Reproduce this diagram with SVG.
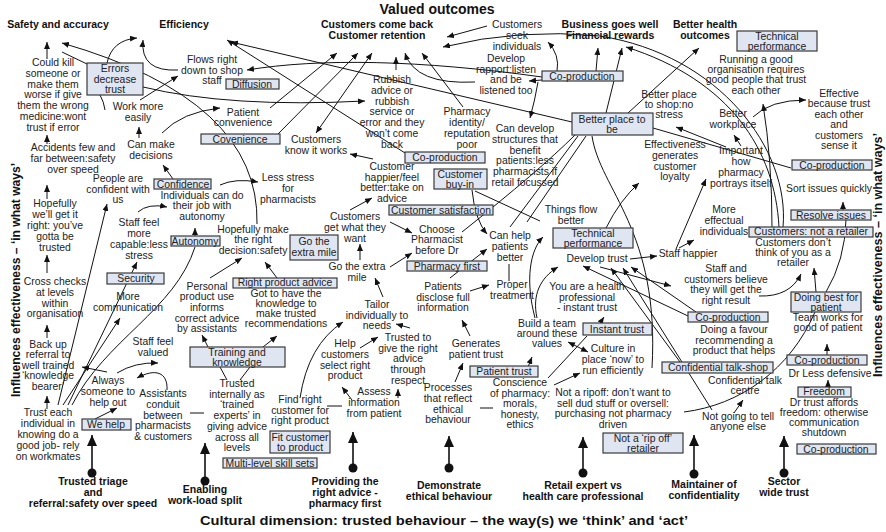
<svg xmlns="http://www.w3.org/2000/svg" width="886" height="532" viewBox="0 0 886 532">
<defs>
<style>
.t{font-family:"Liberation Sans",Arial,sans-serif;font-size:10.4px;fill:#222;text-anchor:middle}
.b{font-family:"Liberation Sans",Arial,sans-serif;font-size:10.5px;font-weight:bold;fill:#111;text-anchor:middle}
.bx{fill:#dfe5f1;stroke:#3a3a3a;stroke-width:1.2}
.c{fill:none;stroke:#111;stroke-width:1}
.a{fill:none;stroke:#111;stroke-width:1;marker-end:url(#ah)}
.aa{fill:none;stroke:#111;stroke-width:1;marker-end:url(#ah);marker-start:url(#as)}
.big{fill:none;stroke:#111;stroke-width:1.6;marker-end:url(#bh)}
</style>
<marker id="ah" markerUnits="userSpaceOnUse" markerWidth="7" markerHeight="6" refX="7" refY="3" orient="auto"><path d="M0,0 L7,3 L0,6 z" fill="#111"/></marker>
<marker id="as" markerUnits="userSpaceOnUse" markerWidth="7" markerHeight="6" refX="0" refY="3" orient="auto"><path d="M7,0 L0,3 L7,6 z" fill="#111"/></marker>
<marker id="bh" markerUnits="userSpaceOnUse" markerWidth="11" markerHeight="10" refX="11" refY="5" orient="auto"><path d="M0,0 L11,5 L0,10 z" fill="#111"/></marker>
</defs>
<rect width="886" height="532" fill="#fff"/>

<g id="connectors">
<path class="a" d="M47,59 L47,42"/>
<path class="a" d="M47,144 L47,135"/>
<path class="a" d="M47,199 L47,185"/>
<path class="a" d="M47,273 L47,255"/>
<path class="a" d="M47,338 L47,325"/>
<path class="a" d="M47,409 L47,396"/>
<path class="c" d="M62,52 L87,64"/>
<path class="a" d="M257,224 Q260,100 62,43"/>
<path class="a" d="M107,63 Q112,40 137,38"/>
<path class="a" d="M178,70 Q140,72 143,40"/>
<path class="c" d="M100,95 Q104,102 105,110"/>
<path class="a" d="M140,100 L178,76"/>
<path class="a" d="M143,87 Q230,108 365,101"/>
<path class="a" d="M139,138 L139,127"/>
<path class="a" d="M162,133 Q182,112 220,108"/>
<path class="a" d="M173,179 L163,165"/>
<path class="a" d="M270,108 L337,53"/>
<path class="a" d="M278,134 L358,53"/>
<path class="aa" d="M316,133 L372,53"/>
<path class="a" d="M396,70 L396,57"/>
<path class="a" d="M475,82 Q415,85 405,53"/>
<path class="a" d="M463,107 L422,53"/>
<path class="a" d="M487,26 L447,37"/>
<path class="a" d="M783,227 C790,150 720,55 600,36 Q520,28 443,47"/>
<path class="a" d="M779,227 C775,150 730,80 626,47"/>
<path class="a" d="M772,227 Q772,160 763,104"/>
<path class="a" d="M572,122 L231,42"/>
<path class="a" d="M405,153 L227,40"/>
<path class="a" d="M542,77 C420,60 320,58 247,70"/>
<path class="a" d="M542,80 L529,81"/>
<path class="a" d="M538,82 Q535,100 530,118"/>
<path class="a" d="M557,71 Q560,55 548,42"/>
<path class="a" d="M596,71 L598,48"/>
<path class="a" d="M606,113 L622,48"/>
<path class="a" d="M628,113 L699,48"/>
<path class="c" d="M653,128 L791,168"/>
<path class="a" d="M741,146 L734,135"/>
<path class="a" d="M726,147 L676,127"/>
<path class="a" d="M753,117 Q770,100 806,100"/>
<path class="a" d="M676,249 L706,179"/>
<path class="a" d="M679,248 L694,240"/>
<path class="a" d="M630,259 L657,256"/>
<path class="a" d="M606,228 Q620,200 639,183"/>
<path class="a" d="M843,210 L843,202"/>
<path class="c" d="M826,292 Q845,260 846,220"/>
<path class="a" d="M816,292 L814,268"/>
<path class="a" d="M759,296 Q790,297 801,274"/>
<path class="a" d="M827,355 L827,344"/>
<path class="a" d="M828,387 L828,380"/>
<path class="c" d="M684,412 C740,405 790,370 815,312"/>
<path class="a" d="M734,413 L743,400"/>
<path class="a" d="M688,316 L583,266"/>
<path class="a" d="M696,312 L631,267"/>
<path class="a" d="M680,362 L611,268"/>
<path class="a" d="M712,410 L623,268"/>
<path class="a" d="M600,267 L671,286"/>
<path class="a" d="M537,318 C532,295 540,278 558,267"/>
<path class="a" d="M535,318 C525,280 530,250 543,237"/>
<path class="a" d="M600,323 L604,317"/>
<path class="aa" d="M568,342 L588,352"/>
<path class="c" d="M548,378 L587,336"/>
<path class="a" d="M554,385 L580,373"/>
<path class="a" d="M528,367 L532,357"/>
<path class="a" d="M455,382 L463,363"/>
<path class="a" d="M470,336 L462,320"/>
<path class="c" d="M480,408 L493,408"/>
<path class="a" d="M450,278 L487,249"/>
<path class="a" d="M470,291 L489,285"/>
<path class="c" d="M509,264 L509,281"/>
<path class="a" d="M472,190 Q475,220 487,234"/>
<path class="c" d="M475,191 L540,221"/>
<path class="c" d="M462,232 Q540,170 575,135"/>
<path class="c" d="M510,227 L578,136"/>
<path class="c" d="M527,222 L586,136"/>
<path class="c" d="M592,136 C600,190 660,230 652,368"/>
<path class="a" d="M58,405 L107,204"/>
<path class="a" d="M63,405 L120,318"/>
<path class="a" d="M68,405 L137,262"/>
<path class="c" d="M72,405 C105,340 175,310 195,247"/>
<path class="a" d="M95,419 L117,408"/>
<path class="a" d="M107,372 L82,367"/>
<path class="a" d="M167,390 C168,372 155,368 137,378"/>
<path class="a" d="M117,373 Q135,362 158,363"/>
<path class="c" d="M190,413 L204,413"/>
<path class="c" d="M227,380 L220,367"/>
<path class="c" d="M240,380 L250,367"/>
<path class="a" d="M208,347 L202,335"/>
<path class="a" d="M263,347 L277,336"/>
<path class="a" d="M210,278 L242,258"/>
<path class="a" d="M277,278 L265,262"/>
<path class="a" d="M195,236 L195,228"/>
<path class="a" d="M138,212 Q148,203 167,207"/>
<path class="a" d="M220,185 Q235,178 258,182"/>
<path class="a" d="M300,398 Q308,345 343,322"/>
<path class="c" d="M327,406 L342,406"/>
<path class="a" d="M352,400 L342,387"/>
<path class="a" d="M398,398 L398,389"/>
<path class="a" d="M360,348 L378,337"/>
<path class="a" d="M410,328 L396,324"/>
<path class="a" d="M383,297 L375,278"/>
<path class="a" d="M360,260 L360,244"/>
<path class="a" d="M390,267 L412,253"/>
<path class="a" d="M350,210 L372,198"/>
<path class="a" d="M390,222 L412,233"/>
<path class="a" d="M373,159 L350,154"/>
<path class="big" d="M92,473 L92,435"/>
<path class="big" d="M205,481 L205,443"/>
<path class="big" d="M353,468 L353,432"/>
<path class="big" d="M449,468 L449,436"/>
<path class="big" d="M583,473 L583,437"/>
<path class="big" d="M694,474 L694,435"/>
<path class="big" d="M784,473 L784,436"/>
<circle cx="92" cy="473" r="4.5" fill="#111"/>
<circle cx="205" cy="481" r="4.5" fill="#111"/>
<circle cx="353" cy="468" r="4.5" fill="#111"/>
<circle cx="449" cy="468" r="4.5" fill="#111"/>
<circle cx="583" cy="473" r="4.5" fill="#111"/>
<circle cx="694" cy="474" r="4.5" fill="#111"/>
<circle cx="784" cy="473" r="4.5" fill="#111"/>
</g>

<g id="titles">
<text class="b" x="437" y="14" style="font-size:14px">Valued outcomes</text>
<text class="b" x="444" y="525" style="font-size:13px" textLength="488" lengthAdjust="spacingAndGlyphs">Cultural dimension: trusted behaviour – the way(s) we ‘think’ and ‘act’</text>
<text class="b" transform="translate(20,280) rotate(-90)" x="0" y="0" style="font-size:12px" textLength="234" lengthAdjust="spacingAndGlyphs">Influences effectiveness – ‘in what ways’</text>
<text class="b" transform="translate(882,255) rotate(-90)" x="0" y="0" style="font-size:12.5px" textLength="244" lengthAdjust="spacingAndGlyphs">Influences effectiveness – ‘in what ways’</text>
</g>

<g id="o-safety"><text class="b" x="58" y="28">Safety and accuracy</text></g>
<g id="o-efficiency"><text class="b" x="184" y="28">Efficiency</text></g>
<g id="o-retention"><text class="b" x="377" y="28"><tspan x="377">Customers come back</tspan><tspan x="377" dy="11">Customer retention</tspan></text></g>
<g id="o-business"><text class="b" x="610" y="28"><tspan x="610">Business goes well</tspan><tspan x="610" dy="11">Financial rewards</tspan></text></g>
<g id="o-health"><text class="b" x="705" y="28"><tspan x="705">Better health</tspan><tspan x="705" dy="11">outcomes</tspan></text></g>

<g id="d-triage"><text class="b" x="93" y="485"><tspan x="93">Trusted triage</tspan><tspan x="93" dy="11">and</tspan><tspan x="93" dy="11">referral:safety over speed</tspan></text></g>
<g id="d-workload"><text class="b" x="205" y="493"><tspan x="205">Enabling</tspan><tspan x="205" dy="11">work-load split</tspan></text></g>
<g id="d-advice"><text class="b" x="345" y="485"><tspan x="345">Providing the</tspan><tspan x="345" dy="11">right advice -</tspan><tspan x="345" dy="11">pharmacy first</tspan></text></g>
<g id="d-ethical"><text class="b" x="449" y="489"><tspan x="449">Demonstrate</tspan><tspan x="449" dy="11">ethical behaviour</tspan></text></g>
<g id="d-retail"><text class="b" x="583" y="489"><tspan x="583">Retail expert vs</tspan><tspan x="583" dy="11">health care professional</tspan></text></g>
<g id="d-confid"><text class="b" x="704" y="488"><tspan x="704">Maintainer of</tspan><tspan x="704" dy="11">confidentiality</tspan></text></g>
<g id="d-sector"><text class="b" x="784" y="485"><tspan x="784">Sector</tspan><tspan x="784" dy="11">wide trust</tspan></text></g>

<g id="n1"><text class="t" x="53" y="66"><tspan x="53">Could kill</tspan><tspan x="53" dy="10.8">someone or</tspan><tspan x="53" dy="10.8">make them</tspan><tspan x="53" dy="10.8">worse if give</tspan><tspan x="53" dy="10.8">them the wrong</tspan><tspan x="53" dy="10.8">medicine:wont</tspan><tspan x="53" dy="10.8">trust if error</tspan></text></g>
<g id="n2"><text class="t" x="73" y="151"><tspan x="73">Accidents few and</tspan><tspan x="73" dy="10.8">far between:safety</tspan><tspan x="73" dy="10.8">over speed</tspan></text></g>
<g id="n3"><text class="t" x="55" y="207"><tspan x="55">Hopefully</tspan><tspan x="55" dy="11">we’ll get it</tspan><tspan x="55" dy="11">right: you’ve</tspan><tspan x="55" dy="11">gotta be</tspan><tspan x="55" dy="11">trusted</tspan></text></g>
<g id="n4"><text class="t" x="55" y="285"><tspan x="55">Cross checks</tspan><tspan x="55" dy="10.8">at levels</tspan><tspan x="55" dy="10.8">within</tspan><tspan x="55" dy="10.8">organisation</tspan></text></g>
<g id="n5"><text class="t" x="48" y="348"><tspan x="48">Back up</tspan><tspan x="48" dy="10.4">referral to</tspan><tspan x="48" dy="10.4">well trained</tspan><tspan x="48" dy="10.4">‘knowledge</tspan><tspan x="48" dy="10.4">bearer’</tspan></text></g>
<g id="n6"><text class="t" x="48" y="416"><tspan x="48">Trust each</tspan><tspan x="48" dy="10.9">individual in</tspan><tspan x="48" dy="10.9">knowing do a</tspan><tspan x="48" dy="10.9">good job- rely</tspan><tspan x="48" dy="10.9">on workmates</tspan></text></g>
<g id="n7"><text class="t" x="108" y="384"><tspan x="108">Always</tspan><tspan x="108" dy="10.8">someone to</tspan><tspan x="108" dy="10.8">help out</tspan></text></g>
<g id="n8"><text class="t" x="153" y="345"><tspan x="153">Staff feel</tspan><tspan x="153" dy="11">valued</tspan></text></g>
<g id="n9"><text class="t" x="163" y="397"><tspan x="163">Assistants</tspan><tspan x="163" dy="10.8">conduit</tspan><tspan x="163" dy="10.8">between</tspan><tspan x="163" dy="10.8">pharmacists</tspan><tspan x="163" dy="10.8">&amp; customers</tspan></text></g>
<g id="n10"><text class="t" x="237" y="387"><tspan x="237">Trusted</tspan><tspan x="237" dy="10.7">internally as</tspan><tspan x="237" dy="10.7">‘trained</tspan><tspan x="237" dy="10.7">experts’ in</tspan><tspan x="237" dy="10.7">giving advice</tspan><tspan x="237" dy="10.7">across all</tspan><tspan x="237" dy="10.7">levels</tspan></text></g>
<g id="n11"><text class="t" x="300" y="403"><tspan x="300">Find right</tspan><tspan x="300" dy="10.7">customer for</tspan><tspan x="300" dy="10.7">right product</tspan></text></g>
<g id="n12"><text class="t" x="345" y="347"><tspan x="345">Help</tspan><tspan x="345" dy="10.8">customers</tspan><tspan x="345" dy="10.8">select right</tspan><tspan x="345" dy="10.8">product</tspan></text></g>
<g id="n13"><text class="t" x="374" y="395"><tspan x="374">Assess</tspan><tspan x="374" dy="10.8">information</tspan><tspan x="374" dy="10.8">from patient</tspan></text></g>
<g id="n14"><text class="t" x="408" y="341"><tspan x="408">Trusted to</tspan><tspan x="408" dy="10.7">give the right</tspan><tspan x="408" dy="10.7">advice</tspan><tspan x="408" dy="10.7">through</tspan><tspan x="408" dy="10.7">respect</tspan></text></g>
<g id="n15"><text class="t" x="377" y="308"><tspan x="377">Tailor</tspan><tspan x="377" dy="10.5">individually to</tspan><tspan x="377" dy="10.5">needs</tspan></text></g>
<g id="n16"><text class="t" x="357" y="270"><tspan x="357">Go the extra</tspan><tspan x="357" dy="11">mile</tspan></text></g>
<g id="n17"><text class="t" x="355" y="220"><tspan x="355">Customers</tspan><tspan x="355" dy="11">get what they</tspan><tspan x="355" dy="11">want</tspan></text></g>
<g id="n18"><text class="t" x="392" y="170"><tspan x="392">Customer</tspan><tspan x="392" dy="10.7">happier/feel</tspan><tspan x="392" dy="10.7">better:take on</tspan><tspan x="392" dy="10.7">advice</tspan></text></g>
<g id="n19"><text class="t" x="437" y="233"><tspan x="437">Choose</tspan><tspan x="437" dy="10.3">Pharmacist</tspan><tspan x="437" dy="10.3">before Dr</tspan></text></g>
<g id="n20"><text class="t" x="443" y="290"><tspan x="443">Patients</tspan><tspan x="443" dy="10.6">disclose full</tspan><tspan x="443" dy="10.6">information</tspan></text></g>
<g id="n21"><text class="t" x="512" y="288"><tspan x="512">Proper</tspan><tspan x="512" dy="11">treatment</tspan></text></g>
<g id="n22"><text class="t" x="510" y="239"><tspan x="510">Can help</tspan><tspan x="510" dy="10.8">patients</tspan><tspan x="510" dy="10.8">better</tspan></text></g>
<g id="n23"><text class="t" x="476" y="347"><tspan x="476">Generates</tspan><tspan x="476" dy="10.5">patient trust</tspan></text></g>
<g id="n24"><text class="t" x="448" y="391"><tspan x="448">Processes</tspan><tspan x="448" dy="10.8">that reflect</tspan><tspan x="448" dy="10.8">ethical</tspan><tspan x="448" dy="10.8">behaviour</tspan></text></g>
<g id="n25"><text class="t" x="520" y="386"><tspan x="520">Conscience</tspan><tspan x="520" dy="10.5">of pharmacy:</tspan><tspan x="520" dy="10.5">morals,</tspan><tspan x="520" dy="10.5">honesty,</tspan><tspan x="520" dy="10.5">ethics</tspan></text></g>
<g id="n26"><text class="t" x="613" y="396"><tspan x="613">Not a ripoff: don’t want to</tspan><tspan x="613" dy="10.5">sell dud stuff or oversell:</tspan><tspan x="613" dy="10.5">purchasing not pharmacy</tspan><tspan x="613" dy="10.5">driven</tspan></text></g>
<g id="n27"><text class="t" x="613" y="352"><tspan x="613">Culture in</tspan><tspan x="613" dy="11">place ‘now’ to</tspan><tspan x="613" dy="11">run efficiently</tspan></text></g>
<g id="n28"><text class="t" x="547" y="327"><tspan x="547">Build a team</tspan><tspan x="547" dy="10.2">around these</tspan><tspan x="547" dy="10.2">values</tspan></text></g>
<g id="n29"><text class="t" x="587" y="290"><tspan x="587">You are a health</tspan><tspan x="587" dy="10.5">professional</tspan><tspan x="587" dy="10.5">- instant trust</tspan></text></g>
<g id="n30"><text class="t" x="597" y="262">Develop trust</text></g>
<g id="n31"><text class="t" x="571" y="213"><tspan x="571">Things flow</tspan><tspan x="571" dy="10.6">better</tspan></text></g>
<g id="n32"><text class="t" x="688" y="257">Staff happier</text></g>
<g id="n33"><text class="t" x="724" y="213"><tspan x="724">More</tspan><tspan x="724" dy="10.8">effectual</tspan><tspan x="724" dy="10.8">individuals</tspan></text></g>
<g id="n34"><text class="t" x="726" y="272"><tspan x="726">Staff and</tspan><tspan x="726" dy="10.5">customers believe</tspan><tspan x="726" dy="10.5">they will get the</tspan><tspan x="726" dy="10.5">right result</tspan></text></g>
<g id="n35"><text class="t" x="793" y="245.5"><tspan x="793">Customers don’t</tspan><tspan x="793" dy="10.3">think of you as a</tspan><tspan x="793" dy="10.3">retailer</tspan></text></g>
<g id="n36"><text class="t" x="829" y="192">Sort issues quickly</text></g>
<g id="n37"><text class="t" x="828" y="321"><tspan x="828">Team works for</tspan><tspan x="828" dy="10.2">good of patient</tspan></text></g>
<g id="n38"><text class="t" x="734" y="333"><tspan x="734">Doing a favour</tspan><tspan x="734" dy="10.6">recommending a</tspan><tspan x="734" dy="10.6">product that helps</tspan></text></g>
<g id="n39"><text class="t" x="745" y="384"><tspan x="745">Confidential talk</tspan><tspan x="745" dy="10.3">centre</tspan></text></g>
<g id="n40"><text class="t" x="738" y="420"><tspan x="738">Not going to tell</tspan><tspan x="738" dy="10.3">anyone else</tspan></text></g>
<g id="n41"><text class="t" x="830" y="377">Dr Less defensive</text></g>
<g id="n42"><text class="t" x="824" y="405.5"><tspan x="824">Dr trust affords</tspan><tspan x="824" dy="10.2">freedom: otherwise</tspan><tspan x="824" dy="10.2">communication</tspan><tspan x="824" dy="10.2">shutdown</tspan></text></g>
<g id="n43"><text class="t" x="675" y="148"><tspan x="675">Effectiveness</tspan><tspan x="675" dy="10.8">generates</tspan><tspan x="675" dy="10.8">customer</tspan><tspan x="675" dy="10.8">loyalty</tspan></text></g>
<g id="n44"><text class="t" x="741" y="154"><tspan x="741">Important</tspan><tspan x="741" dy="11">how</tspan><tspan x="741" dy="11">pharmacy</tspan><tspan x="741" dy="11">portrays itself</tspan></text></g>
<g id="n45"><text class="t" x="669" y="98"><tspan x="669">Better place</tspan><tspan x="669" dy="10">to shop:no</tspan><tspan x="669" dy="10">stress</tspan></text></g>
<g id="n46"><text class="t" x="733" y="117"><tspan x="733">Better</tspan><tspan x="733" dy="11">workplace</tspan></text></g>
<g id="n47"><text class="t" x="839" y="97"><tspan x="839">Effective</tspan><tspan x="839" dy="10.4">because trust</tspan><tspan x="839" dy="10.4">each other</tspan><tspan x="839" dy="10.4">and</tspan><tspan x="839" dy="10.4">customers</tspan><tspan x="839" dy="10.4">sense it</tspan></text></g>
<g id="n48"><text class="t" x="756" y="63"><tspan x="756">Running a good</tspan><tspan x="756" dy="10.2">organisation requires</tspan><tspan x="756" dy="10.2">good people that trust</tspan><tspan x="756" dy="10.2">each other</tspan></text></g>
<g id="n49"><text class="t" x="517" y="28"><tspan x="517">Customers</tspan><tspan x="517" dy="11">seek</tspan><tspan x="517" dy="11">individuals</tspan></text></g>
<g id="n50"><text class="t" x="506" y="62"><tspan x="506">Develop</tspan><tspan x="506" dy="10.7">rapport:listen</tspan><tspan x="506" dy="10.7">and be</tspan><tspan x="506" dy="10.7">listened too</tspan></text></g>
<g id="n51"><text class="t" x="392" y="83"><tspan x="392">Rubbish</tspan><tspan x="392" dy="10.8">advice or</tspan><tspan x="392" dy="10.8">rubbish</tspan><tspan x="392" dy="10.8">service or</tspan><tspan x="392" dy="10.8">error and they</tspan><tspan x="392" dy="10.8">won’t come</tspan><tspan x="392" dy="10.8">back</tspan></text></g>
<g id="n52"><text class="t" x="467" y="115"><tspan x="467">Pharmacy</tspan><tspan x="467" dy="11">identity/</tspan><tspan x="467" dy="11">reputation</tspan><tspan x="467" dy="11">poor</tspan></text></g>
<g id="n53"><text class="t" x="525" y="132"><tspan x="525">Can develop</tspan><tspan x="525" dy="10.8">structures that</tspan><tspan x="525" dy="10.8">benefit</tspan><tspan x="525" dy="10.8">patients:less</tspan><tspan x="525" dy="10.8">pharmacists if</tspan><tspan x="525" dy="10.8">retail focussed</tspan></text></g>
<g id="n54"><text class="t" x="316" y="143"><tspan x="316">Customers</tspan><tspan x="316" dy="11">know it works</tspan></text></g>
<g id="n55"><text class="t" x="243" y="116"><tspan x="243">Patient</tspan><tspan x="243" dy="10">convenience</tspan></text></g>
<g id="n56"><text class="t" x="138" y="110"><tspan x="138">Work more</tspan><tspan x="138" dy="11">easily</tspan></text></g>
<g id="n57"><text class="t" x="151" y="148"><tspan x="151">Can make</tspan><tspan x="151" dy="11">decisions</tspan></text></g>
<g id="n58"><text class="t" x="212" y="63"><tspan x="212">Flows right</tspan><tspan x="212" dy="10.5">down to shop</tspan><tspan x="212" dy="10.5">staff</tspan></text></g>
<g id="n59"><text class="t" x="118" y="182"><tspan x="118">People are</tspan><tspan x="118" dy="10.7">confident with</tspan><tspan x="118" dy="10.7">us</tspan></text></g>
<g id="n60"><text class="t" x="202" y="198.5"><tspan x="202">Individuals can do</tspan><tspan x="202" dy="10.8">their job with</tspan><tspan x="202" dy="10.8">autonomy</tspan></text></g>
<g id="n61"><text class="t" x="288" y="181"><tspan x="288">Less stress</tspan><tspan x="288" dy="11">for</tspan><tspan x="288" dy="11">pharmacists</tspan></text></g>
<g id="n62"><text class="t" x="139" y="226"><tspan x="139">Staff feel</tspan><tspan x="139" dy="11">more</tspan><tspan x="139" dy="11">capable:less</tspan><tspan x="139" dy="11">stress</tspan></text></g>
<g id="n63"><text class="t" x="128" y="300"><tspan x="128">More</tspan><tspan x="128" dy="10.5">communication</tspan></text></g>
<g id="n64"><text class="t" x="253" y="233"><tspan x="253">Hopefully make</tspan><tspan x="253" dy="10.4">the right</tspan><tspan x="253" dy="10.4">decision:safety</tspan></text></g>
<g id="n65"><text class="t" x="207" y="289.5"><tspan x="207">Personal</tspan><tspan x="207" dy="10.7">product use</tspan><tspan x="207" dy="10.7">informs</tspan><tspan x="207" dy="10.7">correct advice</tspan><tspan x="207" dy="10.7">by assistants</tspan></text></g>
<g id="n66"><text class="t" x="286" y="296.5"><tspan x="286">Got to have the</tspan><tspan x="286" dy="10.2">knowledge to</tspan><tspan x="286" dy="10.2">make trusted</tspan><tspan x="286" dy="10.2">recommendations</tspan></text></g>

<g id="b-errors"><rect class="bx" x="87" y="63" width="56" height="32"/><text class="t" x="115" y="72"><tspan x="115">Errors</tspan><tspan x="115" dy="10.5">decrease</tspan><tspan x="115" dy="10.5">trust</tspan></text></g>
<g id="b-diffusion"><rect class="bx" x="226" y="79" width="53" height="10"/><text class="t" x="252" y="87.5">Diffusion</text></g>
<g id="b-covenience"><rect class="bx" x="201" y="134" width="79" height="10"/><text class="t" x="240" y="142.5">Covenience</text></g>
<g id="b-confidence"><rect class="bx" x="154" y="179" width="57" height="10"/><text class="t" x="183" y="187.5">Confidence</text></g>
<g id="b-autonomy"><rect class="bx" x="171" y="236" width="49" height="10"/><text class="t" x="195" y="244.5">Autonomy</text></g>
<g id="b-security"><rect class="bx" x="107" y="273" width="57" height="11"/><text class="t" x="136" y="282">Security</text></g>
<g id="b-rightproduct"><rect class="bx" x="233" y="278" width="104" height="10"/><text class="t" x="285" y="286.3">Right product advice</text></g>
<g id="b-extramile"><rect class="bx" x="290" y="235" width="48" height="25"/><text class="t" x="314" y="245"><tspan x="314">Go the</tspan><tspan x="314" dy="10.5">extra mile</tspan></text></g>
<g id="b-training"><rect class="bx" x="190" y="347" width="95" height="20"/><text class="t" x="237" y="355.5"><tspan x="237">Training and</tspan><tspan x="237" dy="10">knowledge</tspan></text></g>
<g id="b-wehelp"><rect class="bx" x="82" y="419" width="49" height="11"/><text class="t" x="106" y="428">We help</text></g>
<g id="b-fit"><rect class="bx" x="270" y="431" width="60" height="22"/><text class="t" x="300" y="440.5"><tspan x="300">Fit customer</tspan><tspan x="300" dy="10.5">to product</tspan></text></g>
<g id="b-multilevel"><rect class="bx" x="223" y="458" width="94" height="10"/><text class="t" x="270" y="466.5">Multi-level skill sets</text></g>
<g id="b-patienttrust"><rect class="bx" x="470" y="366" width="68" height="11"/><text class="t" x="504" y="375">Patient trust</text></g>
<g id="b-pharmacyfirst"><rect class="bx" x="407" y="261" width="80" height="10"/><text class="t" x="447" y="269.5">Pharmacy first</text></g>
<g id="b-custsat"><rect class="bx" x="389" y="205" width="104" height="10"/><text class="t" x="441" y="213.5">Customer satisfaction</text></g>
<g id="b-buyin"><rect class="bx" x="434" y="169" width="53" height="20"/><text class="t" x="460" y="177.5"><tspan x="460">Customer</tspan><tspan x="460" dy="10">buy-in</tspan></text></g>
<g id="b-coprod1"><rect class="bx" x="405" y="152" width="80" height="11"/><text class="t" x="445" y="161">Co-production</text></g>
<g id="b-coprod2"><rect class="bx" x="542" y="71" width="81" height="10"/><text class="t" x="582" y="79.5">Co-production</text></g>
<g id="b-betterplace"><rect class="bx" x="572" y="113" width="81" height="22"/><text class="t" x="612" y="123"><tspan x="612">Better place to</tspan><tspan x="612" dy="10">be</tspan></text></g>
<g id="b-tech1"><rect class="bx" x="737" y="31" width="80" height="20"/><text class="t" x="777" y="39.5"><tspan x="777">Technical</tspan><tspan x="777" dy="10">performance</tspan></text></g>
<g id="b-coprod3"><rect class="bx" x="792" y="160" width="80" height="10"/><text class="t" x="832" y="168.5">Co-production</text></g>
<g id="b-resolve"><rect class="bx" x="791" y="210" width="80" height="10"/><text class="t" x="831" y="218.5">Resolve issues</text></g>
<g id="b-notretailer"><rect class="bx" x="749" y="227" width="124" height="10"/><text class="t" x="811" y="235.3">Customers: not a retailer</text></g>
<g id="b-tech2"><rect class="bx" x="553" y="228" width="80" height="20"/><text class="t" x="593" y="236.5"><tspan x="593">Technical</tspan><tspan x="593" dy="10">performance</tspan></text></g>
<g id="b-instant"><rect class="bx" x="583" y="323" width="69" height="12"/><text class="t" x="617" y="332.5">Instant trust</text></g>
<g id="b-bestpatient"><rect class="bx" x="791" y="292" width="70" height="20"/><text class="t" x="826" y="300.5"><tspan x="826">Doing best for</tspan><tspan x="826" dy="10">patient</tspan></text></g>
<g id="b-coprod4"><rect class="bx" x="688" y="312" width="80" height="10"/><text class="t" x="728" y="320.5">Co-production</text></g>
<g id="b-talkshop"><rect class="bx" x="662" y="362" width="111" height="11"/><text class="t" x="718" y="371">Confidential talk-shop</text></g>
<g id="b-coprod5"><rect class="bx" x="787" y="355" width="80" height="10"/><text class="t" x="827" y="363.5">Co-production</text></g>
<g id="b-freedom"><rect class="bx" x="798" y="387" width="53" height="10"/><text class="t" x="824" y="395.3">Freedom</text></g>
<g id="b-coprod6"><rect class="bx" x="797" y="444" width="79" height="10"/><text class="t" x="836" y="452.5">Co-production</text></g>
<g id="b-ripoff"><rect class="bx" x="603" y="433" width="80" height="20"/><text class="t" x="643" y="441.5"><tspan x="643">Not a ‘rip off’</tspan><tspan x="643" dy="10">retailer</tspan></text></g>
</svg>
